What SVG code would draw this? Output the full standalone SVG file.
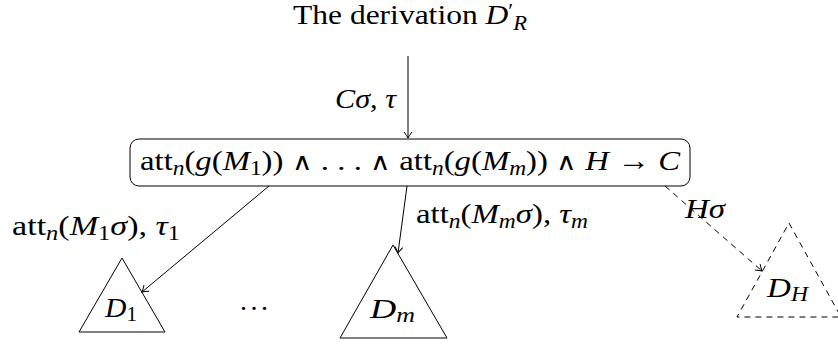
<svg xmlns="http://www.w3.org/2000/svg" width="838" height="344" viewBox="0 0 838 344">
<style>
  text { font-family: "Liberation Serif", "DejaVu Serif", serif; font-size: 28px; fill: #000; }
  .i { font-style: italic; }
  .s { font-size: 20px; }
  .sym { font-family: "DejaVu Sans", sans-serif; font-weight: 200; font-size: 24px; }
  .ln { fill: none; stroke: #000; stroke-width: 1; }
  .dash { stroke-dasharray: 6 5; }
</style>
<defs>
  <marker id="ah" markerWidth="10" markerHeight="10" refX="0" refY="0" viewBox="-7 -5 8 10" orient="auto" markerUnits="userSpaceOnUse">
    <path d="M -6 -4 Q -2 -1 0 0 Q -2 1 -6 4" fill="none" stroke="#000" stroke-width="1"/>
  </marker>
</defs>
<g id="title">
  <text x="293" y="24" textLength="234" lengthAdjust="spacingAndGlyphs">The derivation <tspan class="i">D</tspan><tspan dy="-6" class="s">′</tspan><tspan dy="12" class="s i">R</tspan></text>
</g>
<g id="rule">
  <rect x="130" y="139" width="560" height="47" rx="9" ry="9" class="ln" stroke-width="1.2"/>
  <text x="140" y="170" textLength="540" lengthAdjust="spacingAndGlyphs">att<tspan class="s i" dy="5">n</tspan><tspan dy="-5">(</tspan><tspan class="i">g</tspan>(<tspan class="i">M</tspan><tspan class="s" dy="5">1</tspan><tspan dy="-5">)) </tspan><tspan class="sym">∧</tspan> . . . <tspan class="sym">∧</tspan> att<tspan class="s i" dy="5">n</tspan><tspan dy="-5">(</tspan><tspan class="i">g</tspan>(<tspan class="i">M</tspan><tspan class="s i" dy="5">m</tspan><tspan dy="-5">)) </tspan><tspan class="sym">∧</tspan> <tspan class="i">H</tspan> → <tspan class="i">C</tspan></text>
</g>
<g id="D1">
  <polygon points="122,258 165,332 79,332" class="ln"/>
  <text x="105" y="317" textLength="32" lengthAdjust="spacingAndGlyphs"><tspan class="i">D</tspan><tspan class="s" dy="4">1</tspan></text>
</g>
<g id="dots">
  <text x="240" y="310" textLength="28" lengthAdjust="spacing">. . .</text>
</g>
<g id="Dm">
  <polygon points="393,245 447,338 340,338" class="ln"/>
  <text x="370" y="318" textLength="45" lengthAdjust="spacingAndGlyphs"><tspan class="i">D</tspan><tspan class="s i" dy="4">m</tspan></text>
</g>
<g id="DH">
  <polygon points="789,223 841,317 737,317" class="ln dash"/>
  <text x="767" y="297" textLength="41" lengthAdjust="spacingAndGlyphs"><tspan class="i">D</tspan><tspan class="s i" dy="4">H</tspan></text>
</g>
<g id="connectors">
  <line x1="408" y1="56" x2="408" y2="138" class="ln" marker-end="url(#ah)"/>
  <line x1="269" y1="186" x2="142" y2="292" class="ln" marker-end="url(#ah)"/>
  <line x1="407" y1="186" x2="398" y2="253" class="ln" marker-end="url(#ah)"/>
  <line x1="665" y1="186" x2="762" y2="271" class="ln dash" marker-end="url(#ah)"/>
  <text x="335" y="108" textLength="61" lengthAdjust="spacingAndGlyphs"><tspan class="i">Cσ</tspan>, <tspan class="i">τ</tspan></text>
  <text x="12" y="235" textLength="168" lengthAdjust="spacingAndGlyphs">att<tspan class="s i" dy="5">n</tspan><tspan dy="-5">(</tspan><tspan class="i">M</tspan><tspan class="s" dy="5">1</tspan><tspan class="i" dy="-5">σ</tspan>), <tspan class="i">τ</tspan><tspan class="s" dy="5">1</tspan></text>
  <text x="416" y="223" textLength="172" lengthAdjust="spacingAndGlyphs">att<tspan class="s i" dy="5">n</tspan><tspan dy="-5">(</tspan><tspan class="i">M</tspan><tspan class="s i" dy="5">m</tspan><tspan class="i" dy="-5">σ</tspan>), <tspan class="i">τ</tspan><tspan class="s i" dy="5">m</tspan></text>
  <text x="685" y="218" textLength="40" lengthAdjust="spacingAndGlyphs"><tspan class="i">Hσ</tspan></text>
</g>
</svg>
